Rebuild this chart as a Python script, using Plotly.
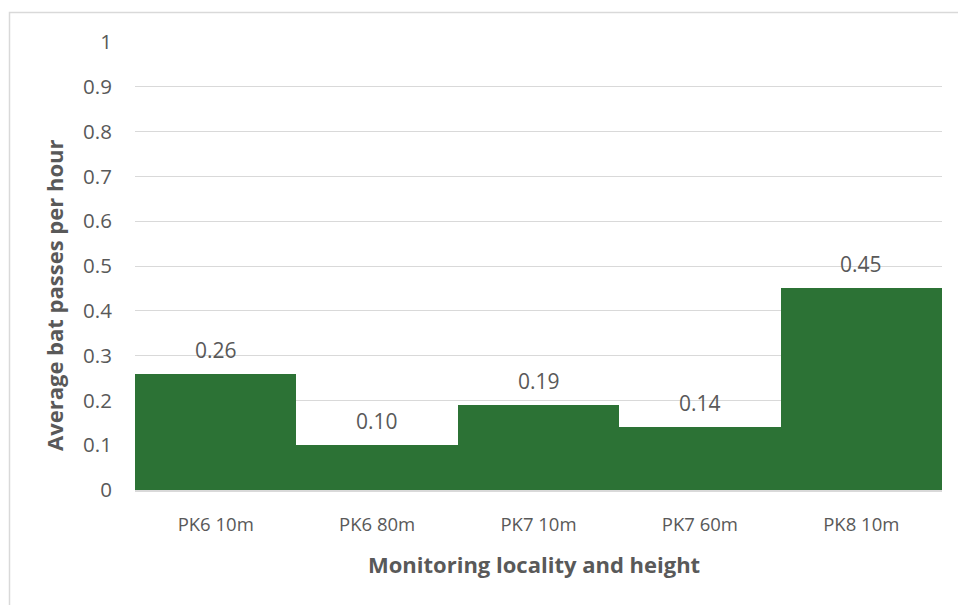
import plotly.graph_objects as go

categories = ["PK6 10m", "PK6 80m", "PK7 10m", "PK7 60m", "PK8 10m"]
values = [0.26, 0.10, 0.19, 0.14, 0.45]
y_ticks = [0, 0.1, 0.2, 0.3, 0.4, 0.5, 0.6, 0.7, 0.8, 0.9, 1]
y_tick_labels = ["0", "0.1", "0.2", "0.3", "0.4", "0.5", "0.6", "0.7", "0.8", "0.9", "1"]
x_title = "Monitoring locality and height"
y_title = "Average bat passes per hour"

W, H = 958, 605
L, R, T, B = 135, 16, 42, 115
pw, ph = W - L - R, H - T - B

FONT = "'Open Sans', sans-serif"
GREY = "#595959"

def px_x(p):
    return (p - L) / pw

def px_y(p):
    return (H - B - p) / ph

fig = go.Figure()
fig.add_trace(go.Bar(
    x=categories, y=values,
    marker=dict(color="#2C7235", line=dict(width=0)),
    hoverinfo="skip",
))

for c, v in zip(categories, values):
    fig.add_annotation(
        x=c, y=v, text=f"{v:.2f}", showarrow=False,
        yanchor="bottom", yshift=8,
        font=dict(family=FONT, size=21, color=GREY),
    )

fig.add_annotation(
    xref="paper", yref="paper", x=px_x(534), y=px_y(564),
    xanchor="center", yanchor="middle", showarrow=False,
    text=f"<b>{x_title}</b>", font=dict(family=FONT, size=22, color=GREY),
)
fig.add_annotation(
    xref="paper", yref="paper", x=px_x(54), y=px_y(296),
    xanchor="center", yanchor="middle", showarrow=False, textangle=-90,
    text=f"<b>{y_title}</b>", font=dict(family=FONT, size=22, color=GREY),
)

fig.add_shape(
    type="rect", xref="paper", yref="paper",
    x0=px_x(9.5), x1=px_x(1000), y0=px_y(700), y1=px_y(12.5),
    line=dict(color="#D9D9D9", width=1.5), fillcolor="rgba(0,0,0,0)",
    layer="below",
)

fig.update_layout(
    width=W, height=H,
    margin=dict(l=L, r=R, t=T, b=B),
    paper_bgcolor="white", plot_bgcolor="white",
    bargap=0,
    showlegend=False,
    font=dict(family=FONT, color=GREY),
    xaxis=dict(
        showgrid=False, showline=True, linecolor="#D9D9D9", linewidth=1.5,
        tickfont=dict(size=18.5, color=GREY),
        ticks="outside", ticklen=17, tickcolor="rgba(0,0,0,0)",
    ),
    yaxis=dict(
        range=[0, 1], tickvals=y_ticks, ticktext=y_tick_labels,
        showgrid=True, gridcolor="#D9D9D9", gridwidth=1.2,
        zeroline=False, showline=False,
        tickfont=dict(size=20.5, color=GREY),
        ticks="outside", ticklen=18, tickcolor="rgba(0,0,0,0)",
    ),
)

fig.write_html(
    "out.html",
    config={"displayModeBar": False},
    post_script="document.body.style.margin='0';document.body.style.overflow='hidden';",
)
